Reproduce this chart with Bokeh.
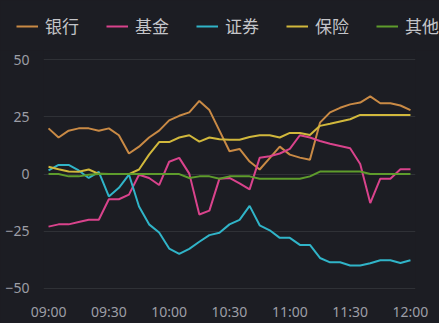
from bokeh.plotting import figure
from bokeh.layouts import column
from bokeh.models import Range1d, FixedTicker, Legend, LegendItem, ColumnDataSource
from bokeh.embed import file_html
from bokeh.resources import INLINE

# ---- data (5-minute points, 09:00 to 12:00) ----
times = ["09:00", "09:05", "09:10", "09:15", "09:20", "09:25", "09:30", "09:35", "09:40", "09:45",
         "09:50", "09:55", "10:00", "10:05", "10:10", "10:15", "10:20", "10:25", "10:30", "10:35",
         "10:40", "10:45", "10:50", "10:55", "11:00", "11:05", "11:10", "11:15", "11:20", "11:25",
         "11:30", "11:35", "11:40", "11:45", "11:50", "11:55", "12:00"]
tick_labels = ["09:00", "09:30", "10:00", "10:30", "11:00", "11:30", "12:00"]
y_ticks = [-50, -25, 0, 25, 50]

series_names = ["银行", "基金", "证券", "保险", "其他"]
bank = [20, 16, 19, 20, 20, 19, 20, 17, 9, 12, 16, 19, 23.5, 25.5, 27, 32, 28, 19, 10, 11,
        5.5, 2, 7, 12, 8.5, 7.2, 6.3, 22.5, 27, 29, 30.5, 31.3, 34, 31, 31, 30, 28]
fund = [-23, -22, -22, -21, -20, -20, -11, -11, -9, -0.3, -1.7, -4.8, 5.4, 7.1, 0.2, -17.7, -16, -2, -1.7, -4.1,
        -6.7, 7.1, 7.8, 9, 11, 17, 16, 14.5, 13.3, 12.3, 11.3, 4.4, -12.7, -2, -2, 2.1, 2.1]
securities = [1.6, 4, 4, 1.6, -1.7, 1, -9.8, -6, -0.2, -14.2, -22, -25.6, -32.6, -34.9, -32.7, -29.6, -26.7, -25.7, -22, -20,
              -13.9, -22.4, -24.6, -27.9, -27.9, -31, -31, -36.7, -38.6, -38.6, -40, -40, -39, -37.7, -37.7, -38.9, -37.7]
insurance = [3.2, 2.1, 1.1, 1, 2, 0.1, 0, 0, 0, 2, 8.5, 14, 14, 16, 17, 14.2, 16, 15.2, 15, 15,
             16.2, 17, 17, 16, 18, 18, 17.1, 21.1, 22, 23, 24, 25.9, 25.9, 25.9, 25.9, 25.9, 25.9]
other = [0, 0, -1, -1, -0.3, 0, 0, 0, 0, 0, 0, 0, 0, 0, -1.7, -1, -1, -2, -1, -1,
         -1, -2, -2, -2, -2, -2, -1, 1.1, 1.1, 1.1, 1.1, 1.1, 0, 0, 0, 0, 0]

colors = ["#c98a45", "#d9438c", "#30b4c8", "#d1b83c", "#5e9c2c"]
cols = ["bank", "fund", "sec", "ins", "oth"]

BG = "#1c1d23"
x_idx = list(range(len(times)))
src = ColumnDataSource(dict(x=x_idx, bank=bank, fund=fund, sec=securities, ins=insurance, oth=other))

# ---- legend strip (separate figure so the legend is not clipped by the chart frame) ----
LEG_H = 50
lf = figure(width=439, height=LEG_H, output_backend="svg", toolbar_location=None,
            x_range=Range1d(-0.5, len(times) - 0.5), y_range=Range1d(1000, 1001),
            x_axis_type=None, y_axis_type=None,
            min_border_left=0, min_border_right=0, min_border_top=0, min_border_bottom=0)
lf.frame_align = False
lf.background_fill_color = BG
lf.border_fill_color = BG
lf.outline_line_color = None
lf.grid.grid_line_color = None
leg_renderers = [lf.line("x", col, source=src, line_color=c, line_width=2) for col, c in zip(cols, colors)]
legend = Legend(items=[LegendItem(label=n, renderers=[r]) for n, r in zip(series_names, leg_renderers)],
                orientation="horizontal", location=(16, 12),
                background_fill_alpha=0, border_line_alpha=0,
                label_text_color="#c4c5c9", label_text_font="Noto Sans CJK SC",
                label_text_font_size="17px", glyph_width=22, glyph_height=20,
                label_standoff=7, spacing=27, padding=0, margin=0)
lf.add_layout(legend, "center")

# ---- main chart ----
H = 323 - LEG_H
FB = 29
frame_h = H - FB
p = figure(width=439, height=H, output_backend="svg", toolbar_location=None,
           x_range=Range1d(-0.5, len(times) - 0.5),
           y_range=Range1d(-50.5, -50.5 + frame_h / 2.3333),
           min_border_left=43, min_border_right=24, min_border_top=0, min_border_bottom=FB)
p.frame_align = False
p.background_fill_color = BG
p.border_fill_color = BG
p.outline_line_color = None

for col, c in zip(cols, colors):
    p.line("x", col, source=src, line_color=c, line_width=2)

p.xaxis.ticker = FixedTicker(ticks=[times.index(t) for t in tick_labels])
p.xaxis.major_label_overrides = {times.index(t): t for t in tick_labels}
p.yaxis.ticker = FixedTicker(ticks=y_ticks)
for ax in (p.xaxis, p.yaxis):
    ax.axis_line_color = None
    ax.major_tick_line_color = None
    ax.minor_tick_line_color = None
    ax.major_label_text_color = "#9c9ea6"
    ax.major_label_text_font = "Noto Sans"
    ax.major_label_text_font_size = "14px"
p.xaxis.major_label_standoff = 6
p.yaxis.major_label_standoff = 8
p.xgrid.grid_line_color = None
p.ygrid.grid_line_color = "#2f3136"
p.ygrid.grid_line_width = 1

layout = column(lf, p, spacing=0)
layout.styles = {"background-color": BG}
open("out.html", "w").write(file_html(layout, INLINE))
